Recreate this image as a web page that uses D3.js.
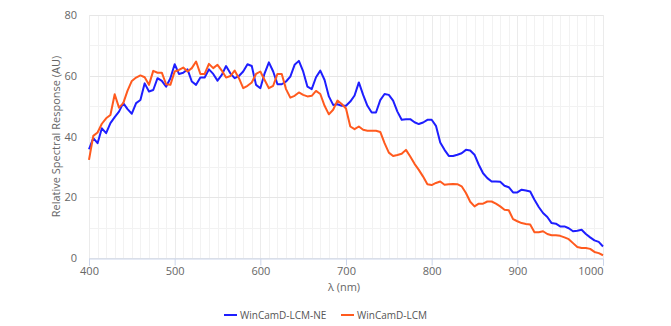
<!DOCTYPE html>
<html><head><meta charset="utf-8">
<script src="https://cdn.jsdelivr.net/npm/d3@7/dist/d3.min.js"></script>
<style>body{margin:0;background:#fff}text{font-family:"Open Sans",sans-serif}</style>
</head><body><svg id="c" width="671" height="326"></svg>
<script>
const wavelengths = d3.range(400, 1001, 5);
const seriesNames = ["WinCamD-LCM-NE", "WinCamD-LCM"];
const lcmNE = [35.8,39.5,37.8,42.7,41.1,44.4,46.4,48.2,51,49,47.5,51,52,57.5,54.8,55.3,59.2,58.3,56.4,59.2,
63.8,60.6,61,62.1,58.1,57,59.4,59.4,62.1,60.6,58.4,60.3,63.2,60.8,59.2,59.9,61.4,63.8,63.2,57,
55.9,60.8,64.4,61.4,57.2,57.2,58.1,59.7,63.6,64.9,61.4,56.4,55.6,59.5,61.7,58.6,53.2,50.4,50.6,50.1,
50.1,51.5,53.5,57.8,53.7,50.1,47.9,47.9,52,54,53.7,51.8,48.2,45.5,45.7,45.7,44.7,44.1,44.6,45.5,
45.5,43.5,38,35.6,33.6,33.6,34,34.5,35.6,35.4,34,30.7,27.9,26.3,25.2,25.2,25.1,23.8,23.3,21.6,
21.6,22.5,22.2,21.9,19.2,16.8,14.8,13.5,11.5,11.3,10.4,10.4,9.8,8.8,9,9.3,7.9,6.8,5.8,5.3,3.8];
const lcm = [32.3,40.2,41.3,44.2,46,47.1,53.9,49.5,51,55.1,58.3,59.4,60.1,59.5,57,61.6,61,61,57.2,57,
61.4,61.9,62.7,61.4,62.5,64.7,60.6,60.6,63.9,62.5,63.6,61.7,59.4,59.9,61.7,59.2,55.9,56.7,57.8,60.6,
61.4,58.6,55.9,56.7,60.6,60.6,55.6,52.8,53.4,54.5,53.7,53.2,53.4,55,54,50.1,47.3,48.8,51.8,50.7,
49.2,43.3,42.4,43.3,42.2,41.9,41.9,41.9,41.5,37.8,34.7,33.6,33.9,34.3,35.6,33.4,31,29,26.8,24.3,
24,24.7,25.2,24.1,24.3,24.4,24.3,23.6,21.4,18.5,17,17.9,17.9,18.6,18.6,17.9,17,15.9,15.7,12.8,
12.1,11.5,11.2,11,8.5,8.5,8.8,7.9,7.5,7.5,7.3,6.8,6.2,4.9,3.6,3.3,3.3,3,2,1.6,0.9];
const colors = ["#1e1eff", "#ff5a1e"];
const xTicks = [400, 500, 600, 700, 800, 900, 1000];
const yTicks = [0, 20, 40, 60, 80];

const svg = d3.select("#c");
const L = 89, R = 603, T = 15, B = 258;
const x = d3.scaleLinear().domain([400, 1000]).range([L, R]);
const y = d3.scaleLinear().domain([0, 80]).range([B, T]);

// minor vertical grid
svg.append("g").selectAll("line").data(d3.range(400, 1001, 10)).join("line")
  .attr("x1", d => Math.round(x(d)) + 0.5).attr("x2", d => Math.round(x(d)) + 0.5)
  .attr("y1", T).attr("y2", B).attr("stroke", "#f2f2f2").attr("stroke-width", 1);
// minor horizontal grid
svg.append("g").selectAll("line").data(d3.range(10, 80, 20)).join("line")
  .attr("x1", L).attr("x2", R)
  .attr("y1", d => Math.round(y(d)) + 0.5).attr("y2", d => Math.round(y(d)) + 0.5)
  .attr("stroke", "#f2f2f2");
// major horizontal grid
svg.append("g").selectAll("line").data(yTicks).join("line")
  .attr("x1", L).attr("x2", R)
  .attr("y1", d => Math.round(y(d)) + 0.5).attr("y2", d => Math.round(y(d)) + 0.5)
  .attr("stroke", "#e6e6e6");
// major vertical grid at ticks
svg.append("g").selectAll("line").data(xTicks).join("line")
  .attr("x1", d => Math.round(x(d)) + 0.5).attr("x2", d => Math.round(x(d)) + 0.5)
  .attr("y1", T).attr("y2", B).attr("stroke", "#ebebeb");

// x axis
const xa = svg.append("g").attr("transform", `translate(0,${B + 0.5})`)
  .call(d3.axisBottom(x).tickValues(xTicks).tickFormat(d3.format("d")).tickSize(7).tickPadding(2));
xa.select(".domain").attr("stroke", "#ccd6eb");
xa.selectAll(".tick line").attr("stroke", "#ccd6eb");
xa.selectAll(".tick text").attr("fill", "#666").attr("font-size", 11)
  .attr("font-family", "Open Sans, sans-serif")
  .attr("text-anchor", d => d === 1000 ? "end" : "middle");

// y axis labels
const ya = svg.append("g").attr("transform", `translate(${L},0)`)
  .call(d3.axisLeft(y).tickValues(yTicks).tickSize(0).tickPadding(12));
ya.select(".domain").remove();
ya.selectAll(".tick text").attr("fill", "#666").attr("font-size", 11)
  .attr("font-family", "Open Sans, sans-serif");

// axis titles
svg.append("text").attr("x", 344).attr("y", 291).attr("text-anchor", "middle")
  .attr("fill", "#666").attr("font-size", 11).text("λ (nm)");
svg.append("text").attr("transform", `translate(60,${(T + B) / 2}) rotate(-90)`)
  .attr("text-anchor", "middle").attr("fill", "#666").attr("font-size", 11)
  .text("Relative Spectral Response (AU)");

// lines
const line = d3.line().x((d, i) => x(wavelengths[i])).y(d => y(d));
[lcmNE, lcm].forEach((s, k) => {
  svg.append("path").datum(s).attr("d", line).attr("fill", "none")
    .attr("stroke", colors[k]).attr("stroke-width", 2).attr("stroke-linejoin", "round");
});

// legend
const lx = [224, 341];
seriesNames.forEach((n, k) => {
  const g = svg.append("g").attr("transform", `translate(${lx[k]},315)`);
  g.append("line").attr("x1", 0).attr("x2", 13).attr("y1", 0).attr("y2", 0)
    .attr("stroke", colors[k]).attr("stroke-width", 2);
  g.append("text").attr("x", 16).attr("y", 4).attr("fill", "#555")
    .attr("font-size", 10).text(n);
});
</script></body></html>
